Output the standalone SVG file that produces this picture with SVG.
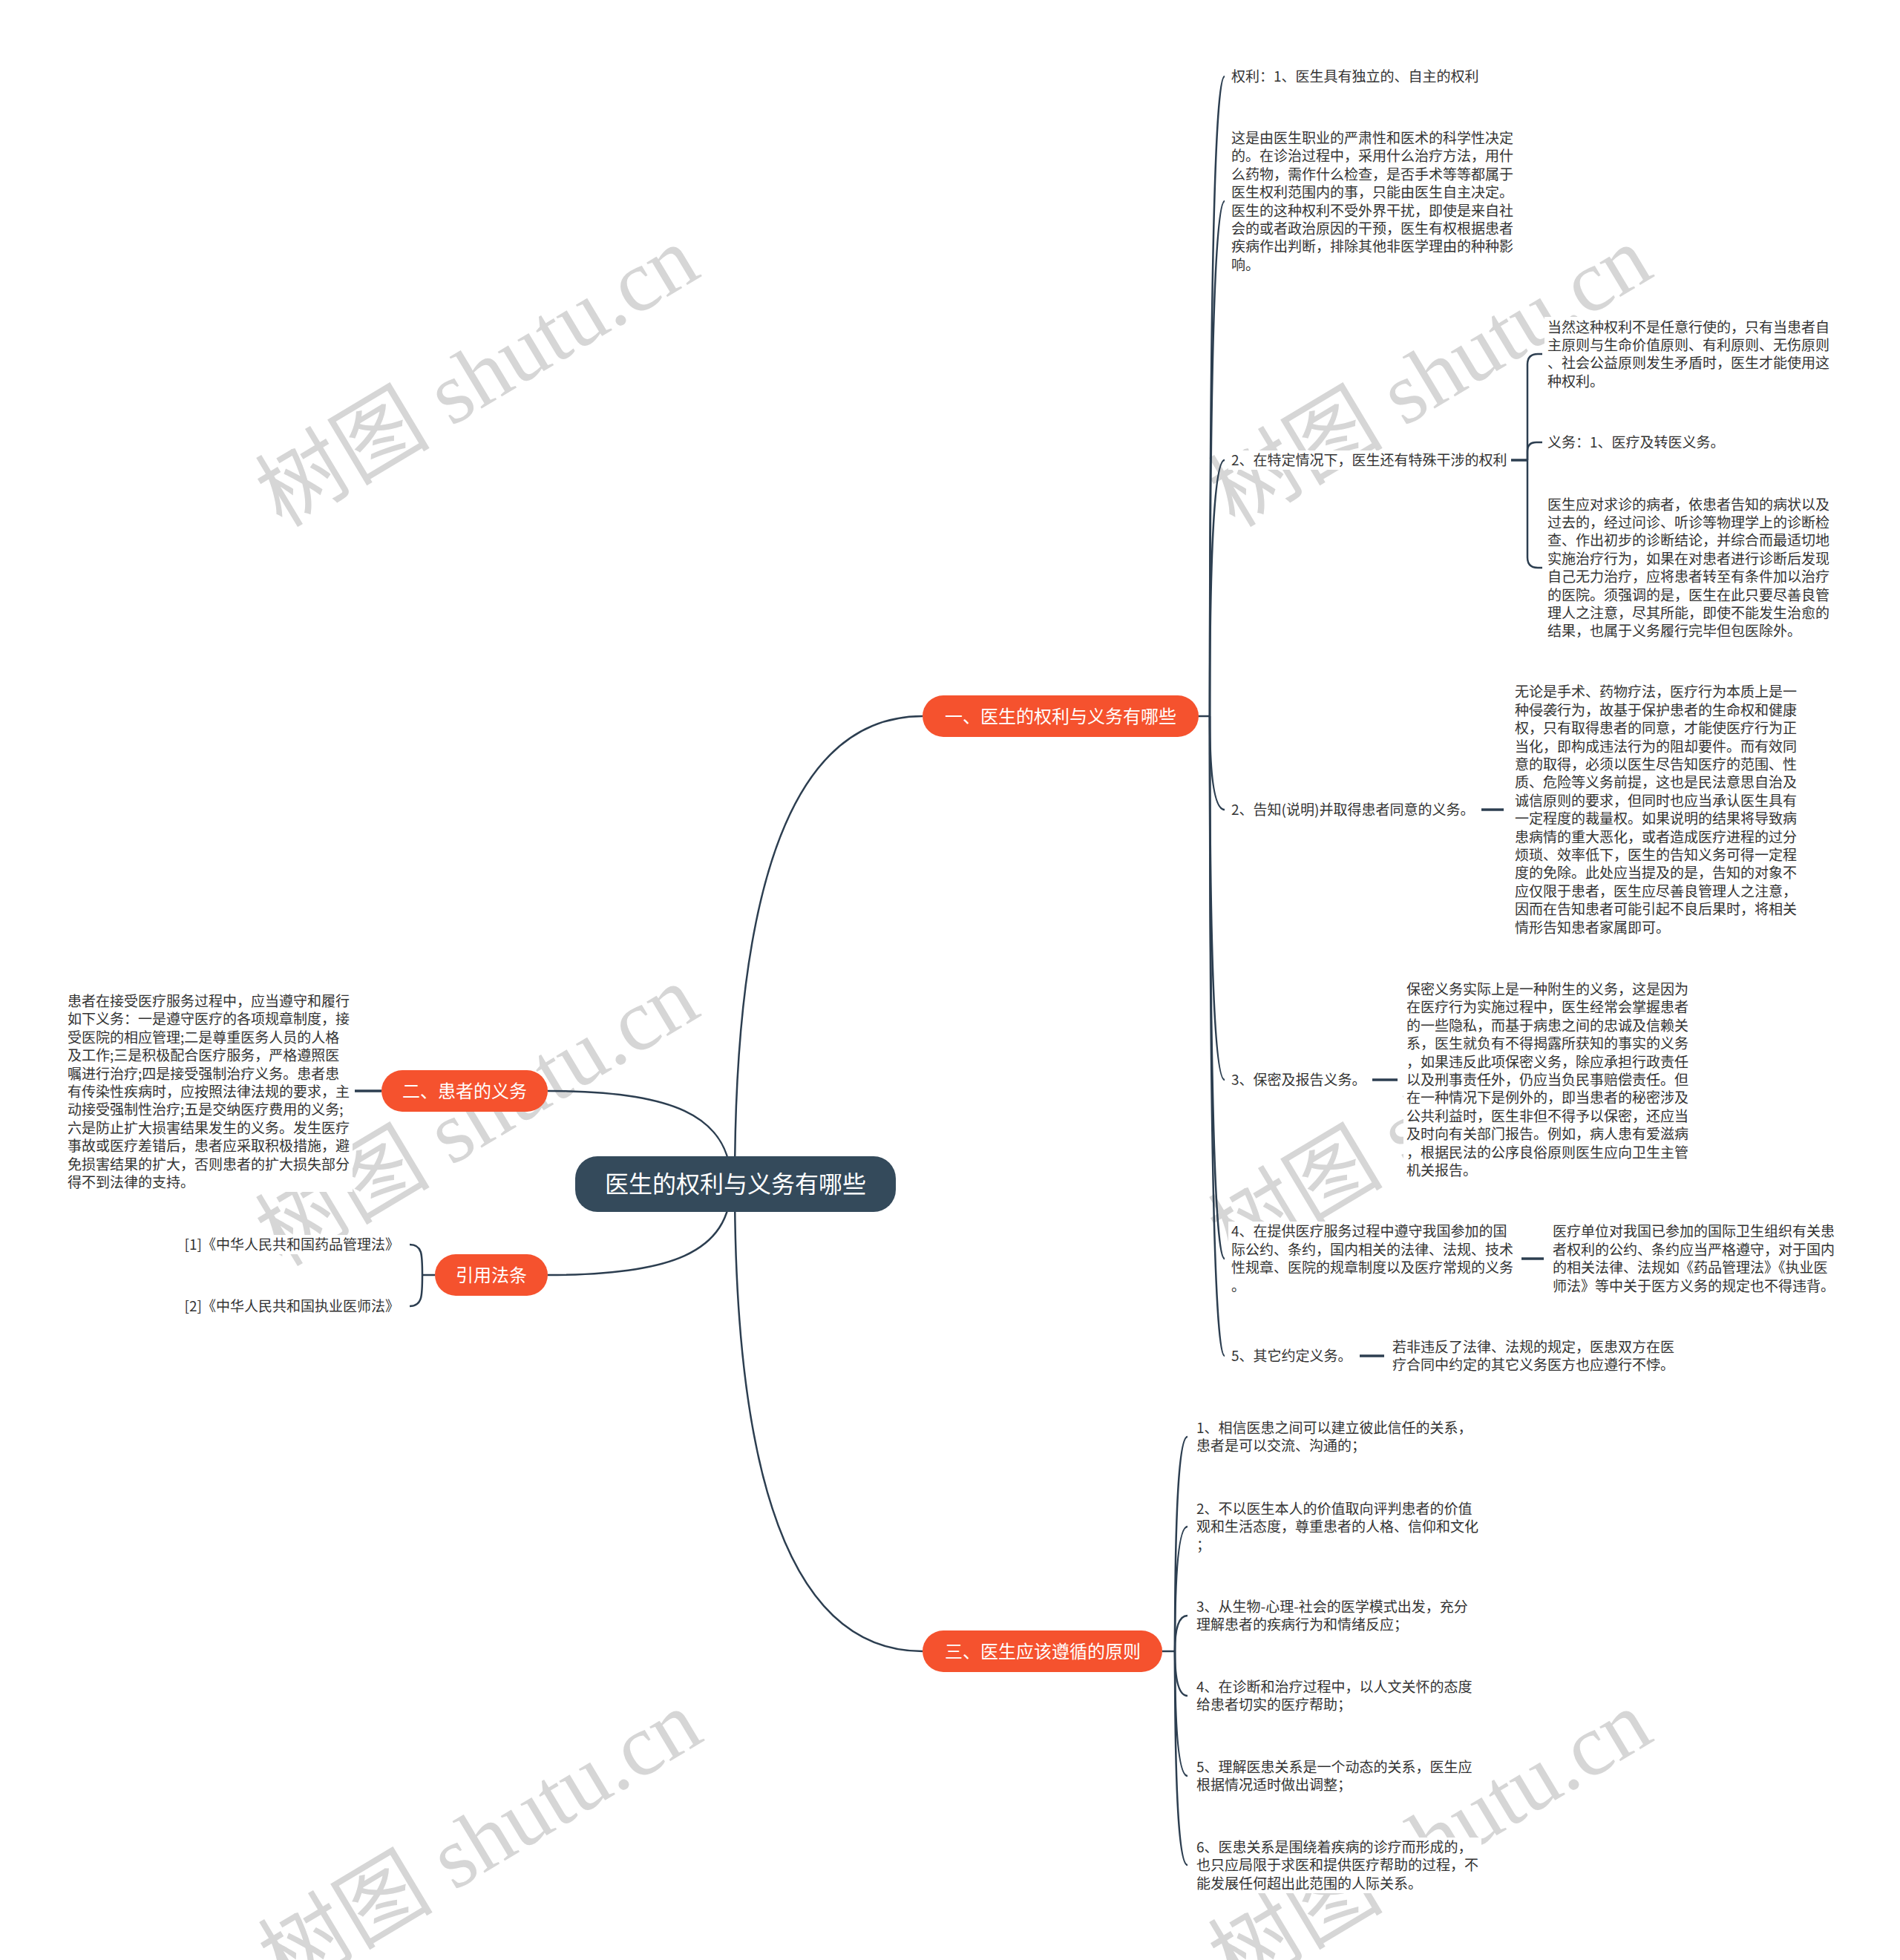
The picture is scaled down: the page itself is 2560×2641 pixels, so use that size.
<svg xmlns="http://www.w3.org/2000/svg" width="2560" height="2641" viewBox="0 0 2560 2641">
<style>
.t{font-family:"Noto Sans CJK SC","Noto Sans",sans-serif;font-size:19px;fill:#333333}
.sec{font-family:"Noto Sans CJK SC","Noto Sans",sans-serif;font-size:24px;fill:#ffffff;text-anchor:middle}
.rt{font-family:"Noto Sans CJK SC","Noto Sans",sans-serif;font-size:32px;fill:#ffffff;text-anchor:middle}
.c{fill:none;stroke:#2c3e50;stroke-width:2.5}
.d{fill:none;stroke:#2c3e50;stroke-width:3.5}
.bg{fill:#ffffff}
.sn{fill:#f5522e}
.rn{fill:#344a5b}
.wm{font-family:"Liberation Serif","Noto Sans CJK SC",serif;font-size:118px;fill:#d6d6d6;text-anchor:middle}
</style>
<rect width="2560" height="2641" fill="#ffffff"/>
<g id="watermarks">
<text class="wm" transform="translate(644,509) rotate(-31)" x="0" y="38">树图 shutu.cn</text>
<text class="wm" transform="translate(644,1505) rotate(-31)" x="0" y="38">树图 shutu.cn</text>
<text class="wm" transform="translate(648,2482) rotate(-31)" x="0" y="38">树图 shutu.cn</text>
<text class="wm" transform="translate(1928,509) rotate(-31)" x="0" y="38">树图 shutu.cn</text>
<text class="wm" transform="translate(1928,1505) rotate(-31)" x="0" y="38">树图 shutu.cn</text>
<text class="wm" transform="translate(1928,2482) rotate(-31)" x="0" y="38">树图 shutu.cn</text>
</g>
<g id="connectors">
<path class="c" d="M990 1595 Q990 965 1243 965"/>
<path class="c" d="M990 1595 Q990 2225 1243 2225"/>
<path class="c" d="M738 1470 C900 1470 985 1500 985 1595"/>
<path class="c" d="M738 1718 C900 1718 985 1690 985 1595"/>
<path class="c" d="M1613 965 H1630"/>
<path class="c" d="M1630 965 Q1630 103 1650 103"/>
<path class="c" d="M1630 965 Q1630 271 1650 271"/>
<path class="c" d="M1630 965 Q1630 620 1650 620"/>
<path class="c" d="M1630 965 Q1630 1091 1650 1091"/>
<path class="c" d="M1630 965 Q1630 1455 1650 1455"/>
<path class="c" d="M1630 965 Q1630 1696 1650 1696"/>
<path class="c" d="M1630 965 Q1630 1827 1650 1827"/>
<path class="d" d="M2036 620 H2058"/>
<path class="c" d="M2058 620 V491 Q2058 477 2072 477 H2078"/>
<path class="c" d="M2058 620 V608 Q2058 596 2070 596 H2078"/>
<path class="c" d="M2058 620 V751 Q2058 765 2072 765 H2078"/>
<path class="d" d="M1996 1091 H2026"/>
<path class="d" d="M1849 1455 H1883"/>
<path class="d" d="M2050 1696 H2080"/>
<path class="d" d="M1832 1827 H1865"/>
<path class="c" d="M1566 2225 H1583"/>
<path class="c" d="M1583 2225 Q1583 1936 1600 1936"/>
<path class="c" d="M1583 2225 Q1583 2057 1600 2057"/>
<path class="c" d="M1583 2225 Q1583 2177 1600 2177"/>
<path class="c" d="M1583 2225 Q1583 2285 1600 2285"/>
<path class="c" d="M1583 2225 Q1583 2393 1600 2393"/>
<path class="c" d="M1583 2225 Q1583 2513 1600 2513"/>
<path class="d" d="M478 1470 H514"/>
<path class="c" d="M586 1718 H569"/>
<path class="c" d="M569 1718 C569 1690 569 1677 552 1677"/>
<path class="c" d="M569 1718 C569 1746 569 1760 552 1760"/>
</g>
<g id="root">
<rect class="rn" x="775" y="1558" width="432" height="75" rx="30"/>
<text class="rt" x="991" y="1607">医生的权利与义务有哪些</text>
</g>
<g id="sec1">
<rect class="sn" x="1243" y="937" width="372" height="56" rx="28"/>
<text class="sec" x="1429" y="973.5">一、医生的权利与义务有哪些</text>
</g>
<g id="sec2">
<rect class="sn" x="514" y="1442" width="224" height="56" rx="28"/>
<text class="sec" x="626" y="1478.5">二、患者的义务</text>
</g>
<g id="sec4">
<rect class="sn" x="586" y="1690" width="152" height="56" rx="28"/>
<text class="sec" x="662" y="1726.5">引用法条</text>
</g>
<g id="sec3">
<rect class="sn" x="1243" y="2197" width="323" height="56" rx="28"/>
<text class="sec" x="1405" y="2233.5">三、医生应该遵循的原则</text>
</g>
<g id="n1-1">
<rect class="bg" x="1655" y="90" width="340" height="26"/>
<text class="t" x="1659" y="110">权利：1、医生具有独立的、自主的权利</text>
</g>
<g id="n1-2">
<rect class="bg" x="1655" y="172" width="388" height="198"/>
<text class="t" x="1659" y="193"><tspan x="1659">这是由医生职业的严肃性和医术的科学性决定</tspan><tspan x="1659" dy="24.4">的。在诊治过程中，采用什么治疗方法，用什</tspan><tspan x="1659" dy="24.4">么药物，需作什么检查，是否手术等等都属于</tspan><tspan x="1659" dy="24.4">医生权利范围内的事，只能由医生自主决定。</tspan><tspan x="1659" dy="24.4">医生的这种权利不受外界干扰，即使是来自社</tspan><tspan x="1659" dy="24.4">会的或者政治原因的干预，医生有权根据患者</tspan><tspan x="1659" dy="24.4">疾病作出判断，排除其他非医学理由的种种影</tspan><tspan x="1659" dy="24.4">响。</tspan></text>
</g>
<g id="n1-3">
<rect class="bg" x="1655" y="607" width="375" height="26"/>
<text class="t" x="1659" y="627">2、在特定情况下，医生还有特殊干涉的权利</text>
</g>
<g id="n1-3a">
<rect class="bg" x="2081" y="427" width="388" height="100"/>
<text class="t" x="2085" y="447.5"><tspan x="2085">当然这种权利不是任意行使的，只有当患者自</tspan><tspan x="2085" dy="24.4">主原则与生命价值原则、有利原则、无伤原则</tspan><tspan x="2085" dy="24.4">、社会公益原则发生矛盾时，医生才能使用这</tspan><tspan x="2085" dy="24.4">种权利。</tspan></text>
</g>
<g id="n1-3b">
<rect class="bg" x="2081" y="583" width="250" height="26"/>
<text class="t" x="2085" y="603">义务：1、医疗及转医义务。</text>
</g>
<g id="n1-3c">
<rect class="bg" x="2081" y="667" width="388" height="196"/>
<text class="t" x="2085" y="686.6"><tspan x="2085">医生应对求诊的病者，依患者告知的病状以及</tspan><tspan x="2085" dy="24.4">过去的，经过问诊、听诊等物理学上的诊断检</tspan><tspan x="2085" dy="24.4">查、作出初步的诊断结论，并综合而最适切地</tspan><tspan x="2085" dy="24.4">实施治疗行为，如果在对患者进行诊断后发现</tspan><tspan x="2085" dy="24.4">自己无力治疗，应将患者转至有条件加以治疗</tspan><tspan x="2085" dy="24.4">的医院。须强调的是，医生在此只要尽善良管</tspan><tspan x="2085" dy="24.4">理人之注意，尽其所能，即使不能发生治愈的</tspan><tspan x="2085" dy="24.4">结果，也属于义务履行完毕但包医除外。</tspan></text>
</g>
<g id="n1-4">
<rect class="bg" x="1655" y="1078" width="330" height="26"/>
<text class="t" x="1659" y="1098">2、告知(说明)并取得患者同意的义务。</text>
</g>
<g id="n1-4a">
<rect class="bg" x="2037" y="919" width="388" height="344"/>
<text class="t" x="2041" y="939.4"><tspan x="2041">无论是手术、药物疗法，医疗行为本质上是一</tspan><tspan x="2041" dy="24.4">种侵袭行为，故基于保护患者的生命权和健康</tspan><tspan x="2041" dy="24.4">权，只有取得患者的同意，才能使医疗行为正</tspan><tspan x="2041" dy="24.4">当化，即构成违法行为的阻却要件。而有效同</tspan><tspan x="2041" dy="24.4">意的取得，必须以医生尽告知医疗的范围、性</tspan><tspan x="2041" dy="24.4">质、危险等义务前提，这也是民法意思自治及</tspan><tspan x="2041" dy="24.4">诚信原则的要求，但同时也应当承认医生具有</tspan><tspan x="2041" dy="24.4">一定程度的裁量权。如果说明的结果将导致病</tspan><tspan x="2041" dy="24.4">患病情的重大恶化，或者造成医疗进程的过分</tspan><tspan x="2041" dy="24.4">烦琐、效率低下，医生的告知义务可得一定程</tspan><tspan x="2041" dy="24.4">度的免除。此处应当提及的是，告知的对象不</tspan><tspan x="2041" dy="24.4">应仅限于患者，医生应尽善良管理人之注意，</tspan><tspan x="2041" dy="24.4">因而在告知患者可能引起不良后果时，将相关</tspan><tspan x="2041" dy="24.4">情形告知患者家属即可。</tspan></text>
</g>
<g id="n1-5">
<rect class="bg" x="1655" y="1442" width="190" height="26"/>
<text class="t" x="1659" y="1462">3、保密及报告义务。</text>
</g>
<g id="n1-5a">
<rect class="bg" x="1891" y="1320" width="388" height="270"/>
<text class="t" x="1895" y="1340"><tspan x="1895">保密义务实际上是一种附生的义务，这是因为</tspan><tspan x="1895" dy="24.4">在医疗行为实施过程中，医生经常会掌握患者</tspan><tspan x="1895" dy="24.4">的一些隐私，而基于病患之间的忠诚及信赖关</tspan><tspan x="1895" dy="24.4">系，医生就负有不得揭露所获知的事实的义务</tspan><tspan x="1895" dy="24.4">，如果违反此项保密义务，除应承担行政责任</tspan><tspan x="1895" dy="24.4">以及刑事责任外，仍应当负民事赔偿责任。但</tspan><tspan x="1895" dy="24.4">在一种情况下是例外的，即当患者的秘密涉及</tspan><tspan x="1895" dy="24.4">公共利益时，医生非但不得予以保密，还应当</tspan><tspan x="1895" dy="24.4">及时向有关部门报告。例如，病人患有爱滋病</tspan><tspan x="1895" dy="24.4">，根据民法的公序良俗原则医生应向卫生主管</tspan><tspan x="1895" dy="24.4">机关报告。</tspan></text>
</g>
<g id="n1-6">
<rect class="bg" x="1655" y="1646" width="388" height="100"/>
<text class="t" x="1659" y="1666.4"><tspan x="1659">4、在提供医疗服务过程中遵守我国参加的国</tspan><tspan x="1659" dy="24.4">际公约、条约，国内相关的法律、法规、技术</tspan><tspan x="1659" dy="24.4">性规章、医院的规章制度以及医疗常规的义务</tspan><tspan x="1659" dy="24.4">。</tspan></text>
</g>
<g id="n1-6a">
<rect class="bg" x="2088" y="1646" width="388" height="100"/>
<text class="t" x="2092" y="1666.4"><tspan x="2092">医疗单位对我国已参加的国际卫生组织有关患</tspan><tspan x="2092" dy="24.4">者权利的公约、条约应当严格遵守，对于国内</tspan><tspan x="2092" dy="24.4">的相关法律、法规如《药品管理法》《执业医</tspan><tspan x="2092" dy="24.4">师法》等中关于医方义务的规定也不得违背。</tspan></text>
</g>
<g id="n1-7">
<rect class="bg" x="1655" y="1814" width="170" height="26"/>
<text class="t" x="1659" y="1834">5、其它约定义务。</text>
</g>
<g id="n1-7a">
<rect class="bg" x="1872" y="1802" width="388" height="50"/>
<text class="t" x="1876" y="1822"><tspan x="1876">若非违反了法律、法规的规定，医患双方在医</tspan><tspan x="1876" dy="24.4">疗合同中约定的其它义务医方也应遵行不悖。</tspan></text>
</g>
<g id="n3-1">
<rect class="bg" x="1608" y="1911" width="388" height="50"/>
<text class="t" x="1612" y="1931"><tspan x="1612">1、相信医患之间可以建立彼此信任的关系，</tspan><tspan x="1612" dy="24.4">患者是可以交流、沟通的；</tspan></text>
</g>
<g id="n3-2">
<rect class="bg" x="1608" y="2020" width="388" height="75"/>
<text class="t" x="1612" y="2040"><tspan x="1612">2、不以医生本人的价值取向评判患者的价值</tspan><tspan x="1612" dy="24.4">观和生活态度，尊重患者的人格、信仰和文化</tspan><tspan x="1612" dy="24.4">；</tspan></text>
</g>
<g id="n3-3">
<rect class="bg" x="1608" y="2152" width="388" height="50"/>
<text class="t" x="1612" y="2172"><tspan x="1612">3、从生物-心理-社会的医学模式出发，充分</tspan><tspan x="1612" dy="24.4">理解患者的疾病行为和情绪反应；</tspan></text>
</g>
<g id="n3-4">
<rect class="bg" x="1608" y="2260" width="388" height="50"/>
<text class="t" x="1612" y="2280"><tspan x="1612">4、在诊断和治疗过程中，以人文关怀的态度</tspan><tspan x="1612" dy="24.4">给患者切实的医疗帮助；</tspan></text>
</g>
<g id="n3-5">
<rect class="bg" x="1608" y="2368" width="388" height="50"/>
<text class="t" x="1612" y="2388"><tspan x="1612">5、理解医患关系是一个动态的关系，医生应</tspan><tspan x="1612" dy="24.4">根据情况适时做出调整；</tspan></text>
</g>
<g id="n3-6">
<rect class="bg" x="1608" y="2476" width="388" height="75"/>
<text class="t" x="1612" y="2496"><tspan x="1612">6、医患关系是围绕着疾病的诊疗而形成的，</tspan><tspan x="1612" dy="24.4">也只应局限于求医和提供医疗帮助的过程，不</tspan><tspan x="1612" dy="24.4">能发展任何超出此范围的人际关系。</tspan></text>
</g>
<g id="n2-1">
<rect class="bg" x="87" y="1336" width="388" height="270"/>
<text class="t" x="91" y="1356"><tspan x="91">患者在接受医疗服务过程中，应当遵守和履行</tspan><tspan x="91" dy="24.4">如下义务：一是遵守医疗的各项规章制度，接</tspan><tspan x="91" dy="24.4">受医院的相应管理;二是尊重医务人员的人格</tspan><tspan x="91" dy="24.4">及工作;三是积极配合医疗服务，严格遵照医</tspan><tspan x="91" dy="24.4">嘱进行治疗;四是接受强制治疗义务。患者患</tspan><tspan x="91" dy="24.4">有传染性疾病时，应按照法律法规的要求，主</tspan><tspan x="91" dy="24.4">动接受强制性治疗;五是交纳医疗费用的义务;</tspan><tspan x="91" dy="24.4">六是防止扩大损害结果发生的义务。发生医疗</tspan><tspan x="91" dy="24.4">事故或医疗差错后，患者应采取积极措施，避</tspan><tspan x="91" dy="24.4">免损害结果的扩大，否则患者的扩大损失部分</tspan><tspan x="91" dy="24.4">得不到法律的支持。</tspan></text>
</g>
<g id="n4-1">
<rect class="bg" x="246" y="1664" width="295" height="26"/>
<text class="t" x="538" y="1684" text-anchor="end">[1]《中华人民共和国药品管理法》</text>
</g>
<g id="n4-2">
<rect class="bg" x="246" y="1747" width="295" height="26"/>
<text class="t" x="538" y="1767" text-anchor="end">[2]《中华人民共和国执业医师法》</text>
</g>
</svg>
